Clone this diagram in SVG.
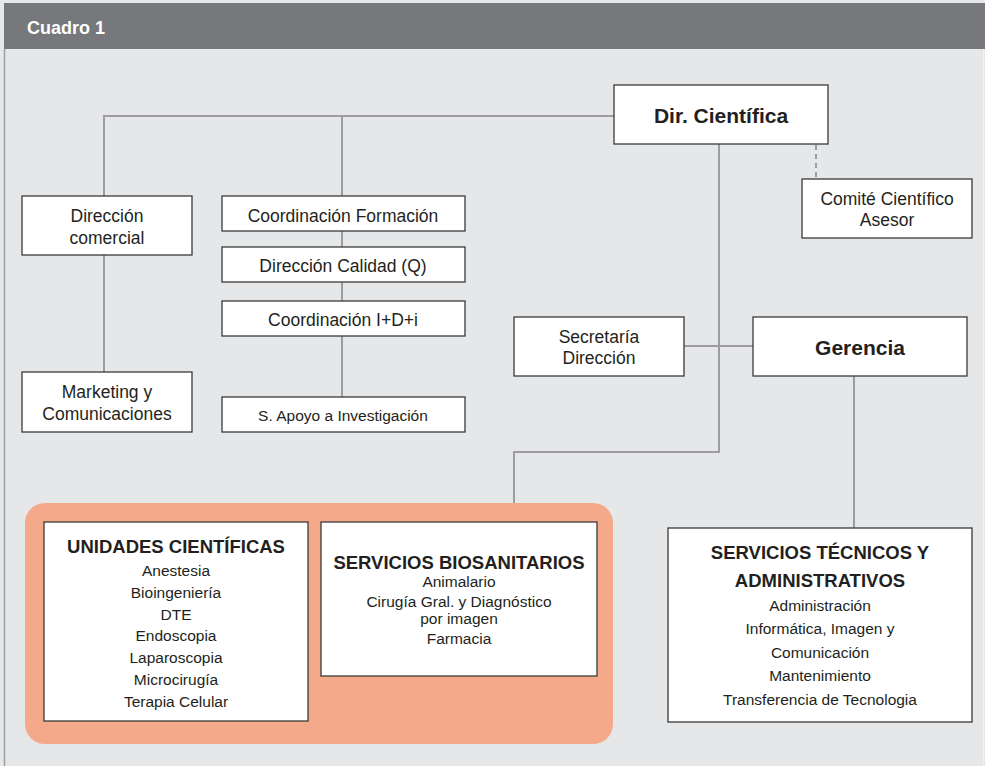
<svg xmlns="http://www.w3.org/2000/svg" width="985" height="766" viewBox="0 0 985 766">
<style>
.bx{fill:#fff;stroke:#3a3a3a;stroke-width:1.3}
.ln{fill:none;stroke:#9d9d9f;stroke-width:2}
.t{font-family:"Liberation Sans",Arial,sans-serif;fill:#231f20;text-anchor:middle}
.r17{font-size:17.5px}
.r16{font-size:15.5px}
.b21{font-size:21px;font-weight:bold}
.b18{font-size:18.5px;font-weight:bold}
</style>
<rect x="0" y="0" width="985" height="766" fill="#e6e7e8"/>
<rect x="4" y="3" width="981" height="46" fill="#77787b"/>
<line x1="4.5" y1="49" x2="4.5" y2="766" stroke="#9d9d9f" stroke-width="1.5"/>
<line x1="983.5" y1="49" x2="983.5" y2="766" stroke="#f2f2f2" stroke-width="1"/>
<text x="27" y="34" font-family="Liberation Sans Narrow,Liberation Sans,Arial,sans-serif" font-weight="bold" font-size="18" fill="#fff">Cuadro 1</text>

<g id="connectors">
<path class="ln" d="M614 116 H104 V196 M342 116 V196"/>
<path class="ln" d="M104 255 V372"/>
<path class="ln" d="M342 231 V247 M342 282 V301 M342 336 V397"/>
<path class="ln" d="M719 144 V452 H514 V503"/>
<path class="ln" d="M684 346 H753"/>
<path class="ln" d="M854 376 V528"/>
<path d="M816 145 V179" fill="none" stroke="#9d9d9f" stroke-width="2" stroke-dasharray="5,4"/>
</g>

<g id="dir-cientifica">
<rect class="bx" x="614" y="85" width="214" height="59"/>
<text class="t b21" x="721" y="122.5">Dir. Científica</text>
</g>
<g id="comite">
<rect class="bx" x="802" y="179" width="170" height="59"/>
<text class="t r17" x="887" y="205">Comité Científico</text>
<text class="t r17" x="887" y="226">Asesor</text>
</g>
<g id="dir-comercial">
<rect class="bx" x="22" y="196" width="170" height="59"/>
<text class="t r17" x="107" y="222">Dirección</text>
<text class="t r17" x="107" y="244">comercial</text>
</g>
<g id="marketing">
<rect class="bx" x="22" y="372" width="170" height="60"/>
<text class="t r17" x="107" y="398">Marketing y</text>
<text class="t r17" x="107" y="420">Comunicaciones</text>
</g>
<g id="coord-formacion">
<rect class="bx" x="222" y="196" width="243" height="35"/>
<text class="t r17" x="343" y="221.5">Coordinación Formación</text>
</g>
<g id="dir-calidad">
<rect class="bx" x="222" y="247" width="243" height="35"/>
<text class="t r17" x="343" y="271.5">Dirección Calidad (Q)</text>
</g>
<g id="coord-idi">
<rect class="bx" x="222" y="301" width="243" height="35"/>
<text class="t r17" x="343" y="326">Coordinación I+D+i</text>
</g>
<g id="apoyo">
<rect class="bx" x="222" y="397" width="243" height="35"/>
<text class="t" font-size="15.5" x="343" y="421">S. Apoyo a Investigación</text>
</g>
<g id="secretaria">
<rect class="bx" x="514" y="317" width="170" height="59"/>
<text class="t r17" x="599" y="343">Secretaría</text>
<text class="t r17" x="599" y="364">Dirección</text>
</g>
<g id="gerencia">
<rect class="bx" x="753" y="317" width="214" height="59"/>
<text class="t b21" x="860" y="355">Gerencia</text>
</g>

<g id="grupo-cientifico">
<rect x="25" y="503" width="588" height="241" rx="20" ry="20" fill="#f4a98a"/>
</g>
<g id="unidades">
<rect class="bx" x="44" y="522" width="264" height="199"/>
<text class="t b18" x="176" y="553">UNIDADES CIENTÍFICAS</text>
<text class="t r16" x="176" y="576">Anestesia</text>
<text class="t r16" x="176" y="597.5">Bioingeniería</text>
<text class="t r16" x="176" y="619.5">DTE</text>
<text class="t r16" x="176" y="641">Endoscopia</text>
<text class="t r16" x="176" y="663">Laparoscopia</text>
<text class="t r16" x="176" y="685">Microcirugía</text>
<text class="t r16" x="176" y="707">Terapia Celular</text>
</g>
<g id="biosanitarios">
<rect class="bx" x="321" y="522" width="276" height="154"/>
<text class="t b18" x="459" y="568.5">SERVICIOS BIOSANITARIOS</text>
<text class="t r16" x="459" y="587">Animalario</text>
<text class="t r16" x="459" y="606.5">Cirugía Gral. y Diagnóstico</text>
<text class="t r16" x="459" y="624">por imagen</text>
<text class="t r16" x="459" y="643.5">Farmacia</text>
</g>
<g id="tecnicos">
<rect class="bx" x="668" y="528" width="304" height="194"/>
<text class="t b18" x="820" y="559">SERVICIOS TÉCNICOS Y</text>
<text class="t b18" x="820" y="587">ADMINISTRATIVOS</text>
<text class="t r16" x="820" y="611">Administración</text>
<text class="t r16" x="820" y="634">Informática, Imagen y</text>
<text class="t r16" x="820" y="657.5">Comunicación</text>
<text class="t r16" x="820" y="681">Mantenimiento</text>
<text class="t r16" x="820" y="704.5">Transferencia de Tecnologia</text>
</g>
</svg>
